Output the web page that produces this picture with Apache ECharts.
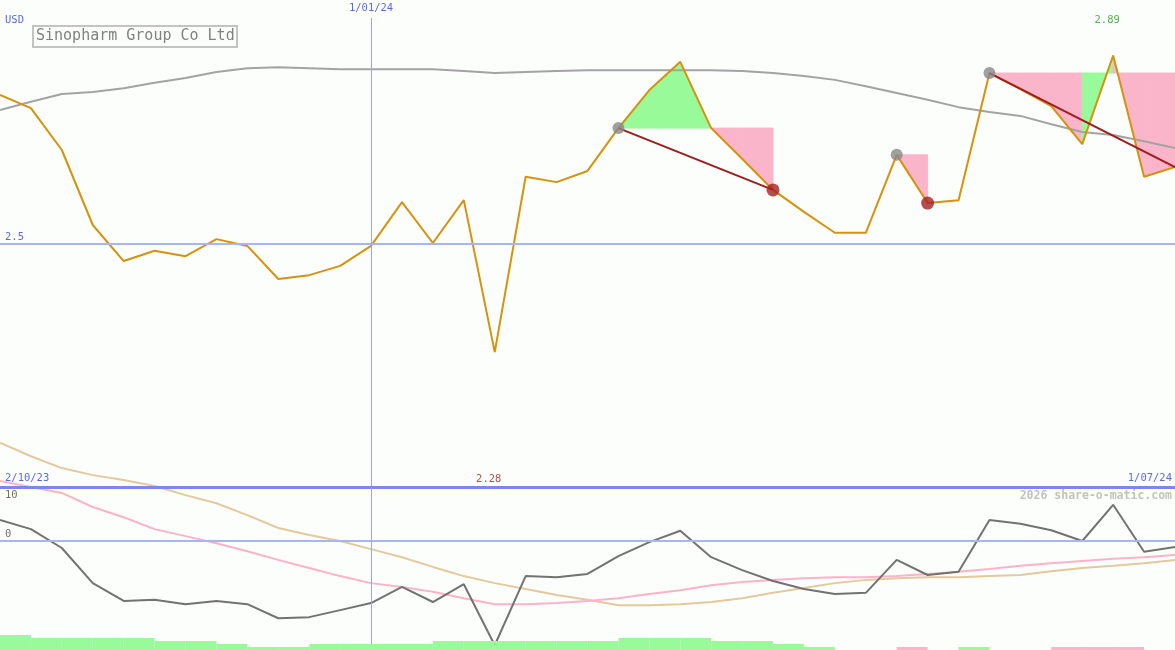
<!DOCTYPE html>
<html><head><meta charset="utf-8">
<script src="https://cdn.jsdelivr.net/npm/echarts@6/dist/echarts.min.js"></script>
<style>html,body{margin:0;padding:0;background:#fcfefc}#c{width:1175px;height:650px}</style>
</head><body><div id="c"></div>
<script>
// ---- data ----
const categories = ['9/10/23','16/10/23','23/10/23','30/10/23','6/11/23','13/11/23','20/11/23','27/11/23',
  '4/12/23','11/12/23','18/12/23','25/12/23','1/01/24','8/01/24','15/01/24','22/01/24','29/01/24',
  '5/02/24','12/02/24','19/02/24','26/02/24','4/03/24','11/03/24','18/03/24','25/03/24',
  '1/04/24','8/04/24','15/04/24','22/04/24','29/04/24','6/05/24','13/05/24','20/05/24','27/05/24',
  '3/06/24','10/06/24','17/06/24','24/06/24','1/07/24'];
const periodStart = '2/10/23';
const titleText = 'Sinopharm Group Co Ltd';
const currency = 'USD';
const watermark = '2026 share-o-matic.com';
const price = [2.805,2.778,2.692,2.538,2.464,2.485,2.474,2.509,2.495,2.427,2.435,2.454,2.495,2.585,2.501,2.589,2.277,
  2.637,2.626,2.649,2.737,2.815,2.873,2.737,2.674,2.610,2.565,2.522,2.522,2.682,2.583,2.589,2.850,2.817,2.782,2.704,2.886,2.637,2.657];
const priceMA = [2.774,2.791,2.807,2.811,2.819,2.830,2.840,2.852,2.860,2.862,2.860,2.858,2.858,2.858,2.858,2.854,2.850,
  2.852,2.854,2.856,2.856,2.856,2.856,2.856,2.854,2.850,2.844,2.836,2.823,2.809,2.795,2.780,2.770,2.762,2.745,2.729,2.723,2.710,2.696];
const osc = [3.9,2.2,-1.3,-7.8,-11.1,-10.9,-11.7,-11.1,-11.7,-14.3,-14.1,-12.8,-11.5,-8.5,-11.3,-8.0,-19.3,
  -6.5,-6.7,-6.1,-2.8,-0.2,1.9,-3.0,-5.4,-7.4,-8.9,-9.8,-9.6,-3.5,-6.3,-5.7,3.9,3.2,2.0,0.0,6.7,-2.0,-1.1];
const oscSignal = [11.1,10.0,8.9,6.3,4.4,2.2,0.9,-0.4,-1.9,-3.5,-5.0,-6.5,-7.8,-8.5,-9.4,-10.6,-11.7,
  -11.7,-11.5,-11.1,-10.6,-9.8,-9.1,-8.2,-7.6,-7.2,-6.9,-6.7,-6.7,-6.5,-6.1,-5.7,-5.2,-4.6,-4.1,-3.7,-3.3,-3.0,-2.6];
const oscSlow = [18.2,15.7,13.5,12.2,11.3,10.2,8.5,7.0,4.8,2.4,1.1,0.0,-1.5,-3.0,-4.8,-6.5,-7.8,
  -8.9,-10.0,-10.9,-11.9,-11.9,-11.7,-11.3,-10.6,-9.6,-8.7,-7.8,-7.2,-6.9,-6.7,-6.7,-6.5,-6.3,-5.6,-5.0,-4.6,-4.1,-3.5];
// histogram per interval (between point i and i+1): + green, - pink
const hist = [5,4,4,4,4,3,3,2,1,1,2,2,2,2,3,3,3,3,3,3,4,4,4,3,3,2,1,0,0,-1,0,1,0,0,-1,-1,-1,0];
const peakIdx = [20,29,32];
const troughIdx = [25,30];
const trendLines = [[20,25],[32,38]];
// [interval index, anchor point index, 0=green 1=pink]
const fillSegments = [[20,20,0],[21,20,0],[22,20,0],[23,20,1],[24,20,1],[29,29,1],
  [32,32,1],[33,32,1],[34,32,1],[35,32,0],[36,32,1],[37,32,1]];
const priceRef = 2.5;
const oscTicks = [10,0,-20];
const markerDate = '1/01/24';

// ---- style ----
const FONT = 'DejaVu Sans Mono';
const BLUE = '#5a68f0', GREY_T = '#707070';
const GREEN = '#98fa98', PINK = '#fbb5ca';
const xAx = (g) => ({type:'category', data:categories, boundaryGap:false, gridIndex:g, show:false});

let maxI = 0, minI = 0;
price.forEach((v,i)=>{ if(v>price[maxI]) maxI=i; if(v<price[minI]) minI=i; });

const lbl = (txt, pos, color, dist) => ({show:true, position:pos, formatter:txt, color:color,
  fontFamily:FONT, fontSize:10.5, distance:dist});

const option = {
  backgroundColor:'#fcfefc',
  animation:false,
  title:{text:titleText, left:33, top:26, padding:[3,3], borderWidth:2, borderColor:'#c3c3c3',
    textStyle:{fontFamily:FONT, fontSize:15, lineHeight:15, color:'#808080', fontWeight:'normal'}},
  graphic:[
    {type:'text', left:5, top:15, style:{text:currency, fill:BLUE, font:'10.5px "DejaVu Sans Mono"'}},
    {type:'text', right:3, top:490, style:{text:watermark, fill:'#c2c2c2', font:'bold 11.5px "DejaVu Sans Mono"'}}
  ],
  grid:[
    {left:0, right:0, top:0, height:487},
    {left:0, right:0, top:487, height:162},
    {left:0, right:0, top:635, height:15}
  ],
  xAxis:[xAx(0), xAx(1), xAx(2)],
  yAxis:[
    {type:'value', gridIndex:0, min:2.0, max:3.0, show:false},
    {type:'value', gridIndex:1, min:-20, max:10, show:false},
    {type:'value', gridIndex:2, min:0, max:5, show:false}
  ],
  series:[
    { type:'custom', xAxisIndex:0, yAxisIndex:0, z:1, data:fillSegments, silent:true,
      renderItem:(params, api)=>{
        const i = api.value(0), a = api.value(1), c = api.value(2);
        const lvl = price[a];
        const col = c ? PINK : GREEN;
        return {type:'polygon', shape:{points:[api.coord([i,price[i]]), api.coord([i+1,price[i+1]]),
          api.coord([i+1,lvl]), api.coord([i,lvl])]}, style:{fill:col, stroke:col, lineWidth:1}};
      }},
    { type:'line', xAxisIndex:0, yAxisIndex:0, z:2, data:priceMA, showSymbol:false,
      lineStyle:{color:'#a3a3a3', width:2}},
    { type:'line', xAxisIndex:0, yAxisIndex:0, z:3, data:price, showSymbol:false,
      lineStyle:{color:'#d6920c', width:2},
      markLine:{silent:true, symbol:['none','none'], data:[
        {yAxis:priceRef, lineStyle:{color:'#a9b4f4', width:2, type:'solid'},
          label:lbl(String(priceRef),'insideStartTop',BLUE,[5,1])},
        [{coord:[markerDate, 2.963], lineStyle:{color:'#97a4fa', width:1, type:'solid'},
          label:lbl(markerDate,'start',BLUE,4)}, {coord:[markerDate, 2.0]}]
      ]}},
    ...trendLines.map(([a,b])=>({type:'line', xAxisIndex:0, yAxisIndex:0, z:4,
      data:[[a,price[a]],[b,price[b]]], showSymbol:false, lineStyle:{color:'#a01c1c', width:2}})),
    { type:'scatter', xAxisIndex:0, yAxisIndex:0, z:5, symbolSize:12,
      itemStyle:{color:'#888888'}, data:peakIdx.map(i=>[i,price[i]])},
    { type:'scatter', xAxisIndex:0, yAxisIndex:0, z:5, symbolSize:13,
      itemStyle:{color:'#a52020'}, data:troughIdx.map(i=>[i,price[i]])},
    { type:'scatter', xAxisIndex:0, yAxisIndex:0, z:6, symbolSize:0, silent:true,
      label:{show:true, position:'inside', offset:[-6,0], fontFamily:FONT, fontSize:10.5},
      data:[
        {value:[maxI, 2.959], label:{formatter:price[maxI].toFixed(2), color:'#22a022'}},
        {value:[minI, 2.0165], label:{formatter:price[minI].toFixed(2), color:'#a52020'}}
      ]},
    // lower panel
    { type:'line', xAxisIndex:1, yAxisIndex:1, z:2, data:oscSlow, showSymbol:false, clip:false,
      lineStyle:{color:'#e3c99c', width:2}},
    { type:'line', xAxisIndex:1, yAxisIndex:1, z:2, data:oscSignal, showSymbol:false, clip:false,
      lineStyle:{color:'#fcb2c8', width:2}},
    { type:'line', xAxisIndex:1, yAxisIndex:1, z:3, data:osc, showSymbol:false, clip:false,
      lineStyle:{color:'#727272', width:2},
      markLine:{silent:true, symbol:['none','none'], data:[
        {yAxis:oscTicks[0], lineStyle:{color:'#7b86ef', width:3, type:'solid'},
          label:lbl(String(oscTicks[0]),'insideStartBottom',GREY_T,[5,3])},
        {yAxis:oscTicks[0], lineStyle:{color:'#7b86ef', width:3, type:'solid'},
          label:lbl(periodStart,'insideStartTop',BLUE,[5,3])},
        {yAxis:oscTicks[0], lineStyle:{color:'#7b86ef', width:3, type:'solid'},
          label:lbl(categories[categories.length-1],'insideEndTop',BLUE,[3,3])},
        {yAxis:oscTicks[1], lineStyle:{color:'#a9b4f4', width:2, type:'solid'},
          label:lbl(String(oscTicks[1]),'insideStartTop',GREY_T,[5,1])},
        {yAxis:oscTicks[2], lineStyle:{width:0, opacity:0},
          label:lbl(String(oscTicks[2]),'insideStartTop',GREY_T,[3,3])},
        [{coord:[markerDate, oscTicks[0]], lineStyle:{color:'#97a4fa', width:1, type:'solid'}, label:{show:false}},
         {coord:[markerDate, oscTicks[2]]}]
      ]}},
    { type:'custom', xAxisIndex:2, yAxisIndex:2, z:8, silent:true,
      data:hist.map((v,i)=>[i,v]),
      renderItem:(params, api)=>{
        const i = api.value(0), v = api.value(1);
        if(!v) return null;
        const p0 = api.coord([i, Math.abs(v)]), p1 = api.coord([i+1, 0]);
        return {type:'rect', shape:{x:p0[0], y:p0[1], width:p1[0]-p0[0], height:p1[1]-p0[1]},
          style:{fill: v>0 ? GREEN : PINK}};
      }}
  ]
};
const chart = echarts.init(document.getElementById('c'));
chart.setOption(option);
</script></body></html>
